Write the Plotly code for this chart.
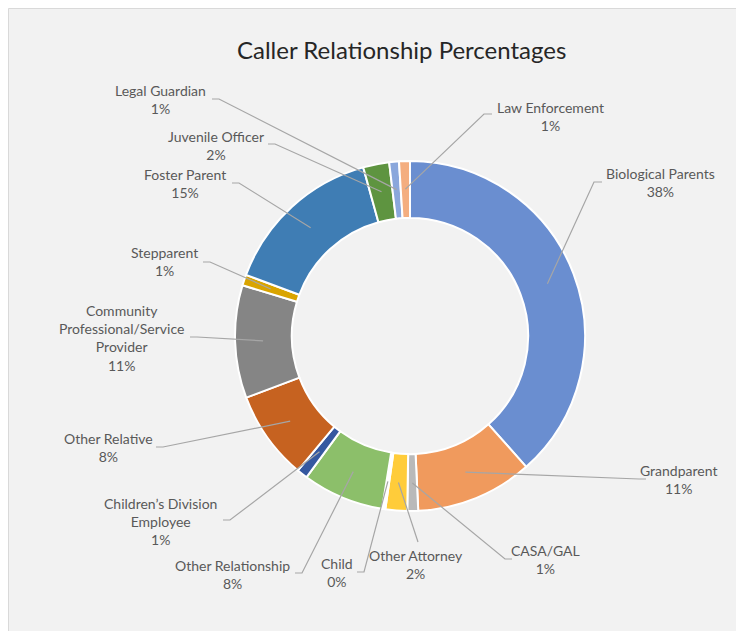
import math
import plotly.graph_objects as go

# ---------------- data ----------------
categories = [
    "Biological Parents", "Grandparent", "CASA/GAL", "Other Attorney", "Child",
    "Other Relationship", "Children\u2019s Division Employee", "Other Relative",
    "Community Professional/Service Provider", "Stepparent", "Foster Parent",
    "Juvenile Officer", "Legal Guardian", "Law Enforcement",
]
values = [38.4, 10.8, 1.0, 2.0, 0.3, 7.5, 1.0, 8.2, 10.4, 1.0, 15.0, 2.4, 0.9, 1.0]
pct_labels = ["38%", "11%", "1%", "2%", "0%", "8%", "1%", "8%", "11%", "1%", "15%", "2%", "1%", "1%"]
label_lines = [
    "Biological Parents", "Grandparent", "CASA/GAL", "Other Attorney", "Child",
    "Other Relationship", "Children\u2019s Division<br>Employee", "Other Relative",
    "Community<br>Professional/Service<br>Provider", "Stepparent", "Foster Parent",
    "Juvenile Officer", "Legal Guardian", "Law Enforcement",
]

# ---------------- styles / layout positions ----------------
colors = ["#6A8ED0", "#F09A5D", "#B9B9B9", "#FFCC3A", "#FFFFFF", "#8CBF6A", "#3558A0",
          "#C66220", "#858585", "#D9A400", "#3F7DB4", "#5E9440", "#8AA7DC", "#F4AE80"]

W, H = 736, 631
CX, CY, R_OUT = 410, 336, 175   # page pixel coordinates
R_LEAD = 147
HOLE = 0.675

# label block centre (px), leader attach point, stub end
label_pos = [
    (660, 182.5), (678, 479.5), (545, 559.5), (416, 564), (337, 572.5), (232, 574),
    (160, 521), (108, 447.5), (122, 337.5), (164, 261.5), (185, 184), (216, 145),
    (160, 100), (550, 116),
]
attach = [
    ((602, 182), (594, 182)), ((646, 479), (639, 479)), ((512, 559), (505, 559)),
    ((418, 542), None), ((357, 572), (364, 572)), ((295, 573), (302, 573)),
    ((223, 520), (230, 520)), ((156, 447), (163, 447)), ((190, 337), (197, 337)),
    ((203, 262), (210, 262)), ((232, 183), (239, 183)), ((268, 144), (275, 144)),
    ((212, 99), (219, 99)), ((492, 114), (484, 114)),
]


def px(x):
    return x / W


def py(y):
    return 1 - y / H


FONT = "Lato, 'Open Sans', sans-serif"

fig = go.Figure()
fig.add_trace(go.Pie(
    labels=categories,
    values=values,
    sort=False,
    direction="clockwise",
    rotation=0,
    hole=HOLE,
    textinfo="none",
    hoverinfo="label+percent",
    marker=dict(colors=colors, line=dict(color="#FFFFFF", width=2)),
    domain=dict(x=[px(CX - R_OUT), px(CX + R_OUT)], y=[py(CY + R_OUT), py(CY - R_OUT)]),
    showlegend=False,
))

shapes = [
    dict(type="rect", xref="paper", yref="paper", x0=px(8.5), x1=1.02, y0=-0.02, y1=py(8.5),
         fillcolor="#F2F2F2", line=dict(color="#D9D9D9", width=1), layer="below"),
]

total = sum(values)
cum = 0.0
annotations = []
for i, v in enumerate(values):
    theta = 2 * math.pi * (cum + v / 2) / total
    cum += v
    ex = CX + R_LEAD * math.sin(theta)
    ey = CY - R_LEAD * math.cos(theta)
    (ax, ay), stub = attach[i]
    path = f"M {px(ax)},{py(ay)}"
    if stub is not None:
        path += f" L {px(stub[0])},{py(stub[1])}"
    path += f" L {px(ex)},{py(ey)}"
    shapes.append(dict(type="path", xref="paper", yref="paper", path=path,
                       line=dict(color="#A6A6A6", width=1.2), layer="above"))
    lx, ly = label_pos[i]
    annotations.append(dict(
        text=f"{label_lines[i]}<br>{pct_labels[i]}",
        x=px(lx), y=py(ly), xref="paper", yref="paper",
        xanchor="center", yanchor="middle", showarrow=False, align="center",
        font=dict(family=FONT, size=14, color="#595959"),
    ))

annotations.append(dict(
    text="Caller Relationship Percentages", x=px(401), y=py(50), xref="paper", yref="paper",
    xanchor="center", yanchor="middle", showarrow=False,
    font=dict(family=FONT, size=24, color="#262626"),
))

fig.update_layout(
    width=W, height=H,
    margin=dict(l=0, r=0, t=0, b=0),
    paper_bgcolor="#FFFFFF",
    plot_bgcolor="#F2F2F2",
    shapes=shapes,
    annotations=annotations,
)

fig.write_html(
    "out.html",
    config={"displayModeBar": False},
    post_script="document.body.style.margin='0';document.body.style.overflow='hidden';",
)
